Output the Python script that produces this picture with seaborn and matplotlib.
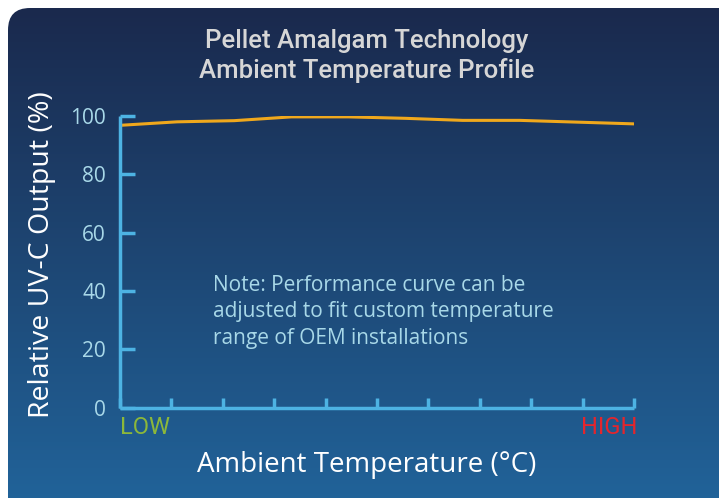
import numpy as np
import pandas as pd
import matplotlib
matplotlib.use("Agg")
import matplotlib.pyplot as plt
from matplotlib.patches import FancyBboxPatch
import seaborn as sns

# data (relative output at 10 evenly spaced temperatures)
temp_step = [0, 1, 2, 3, 4, 5, 6, 7, 8, 9]
uv_output = [96.8, 98.0, 98.4, 99.7, 99.7, 99.2, 98.5, 98.5, 97.9, 97.3]
y_ticks = [0, 20, 40, 60, 80, 100]
title_lines = ["Pellet Amalgam Technology", "Ambient Temperature Profile"]
note_text = "Note: Performance curve can be\nadjusted to fit custom temperature\nrange of OEM installations"

df = pd.DataFrame({"step": temp_step, "output": uv_output})

sns.set_theme(style="white")
plt.rcParams['font.family'] = ['Open Sans', 'DejaVu Sans']

axis_col = "#4db3e3"
tick_col = "#a8d8e8"

fig = plt.figure(figsize=(7.19, 4.98), dpi=100)
fig.patch.set_facecolor("white")

# rounded gradient panel
bg = fig.add_axes([0, 0, 1, 1])
bg.set_xlim(0, 719)
bg.set_ylim(498, 0)
bg.axis("off")
grad = np.linspace(0, 1, 256).reshape(-1, 1)
top = np.array([0x1a, 0x29, 0x4d]) / 255
bot = np.array([0x21, 0x65, 0x9c]) / 255
img = top + grad[..., None] * (bot - top)
img = np.repeat(img, 2, axis=1)
im = bg.imshow(img, extent=[8, 740, 520, 8], aspect="auto", zorder=0)
panel = FancyBboxPatch((8, 8), 740, 520, boxstyle="round,pad=0,rounding_size=22",
                       transform=bg.transData, facecolor="none", edgecolor="none")
bg.add_patch(panel)
im.set_clip_path(panel)

ax = fig.add_axes([120 / 719, 1 - 407.5 / 498, 514 / 719, 291.5 / 498])
ax.patch.set_alpha(0)
sns.lineplot(data=df, x="step", y="output", ax=ax, color="#f0a81c", linewidth=2.2)

ax.set_xlim(0, 9)
ax.set_ylim(0, 100)
ax.set_xticks(np.linspace(0, 9, 11))
ax.set_xticklabels([])
ax.set_yticks(y_ticks)
ax.set_yticklabels([str(t) for t in y_ticks], color=tick_col, fontsize=15)
ax.tick_params(axis="y", direction="in", length=11, width=2.5, color=axis_col, pad=10, left=True)
ax.tick_params(axis="x", direction="in", length=7, width=2.5, color=axis_col, bottom=True)
for s in ["top", "right"]:
    ax.spines[s].set_visible(False)
for s in ["left", "bottom"]:
    ax.spines[s].set_color(axis_col)
    ax.spines[s].set_linewidth(2.5)
    ax.spines[s].set_capstyle("butt")
ax.set_xlabel("")
ax.set_ylabel("")

cond = ['Roboto', 'DejaVu Sans']
ax.text(0, -0.03, "LOW", transform=ax.transAxes, color="#8cb83a", fontsize=17, va="top", ha="left",
        family=cond)
ax.text(1.006, -0.03, "HIGH", transform=ax.transAxes, color="#e3262d", fontsize=17, va="top", ha="right",
        family=cond)
ax.text(0.18, 0.455, note_text, transform=ax.transAxes, color=tick_col, fontsize=15,
        va="top", ha="left", linespacing=1.35)

fig.text(367 / 719, 1 - 56 / 498, "\n".join(title_lines), color="#d6d6d6", fontsize=18.5,
         ha="center", va="center", linespacing=1.25, family=cond, fontweight="medium")
fig.text(42 / 719, 1 - 255 / 498, "Relative UV-C Output (%)", color="white", fontsize=20.5,
         rotation=90, ha="center", va="center")
fig.text(367 / 719, 1 - 465 / 498, "Ambient Temperature (°C)", color="white", fontsize=20,
         ha="center", va="center")

fig.savefig("out.png", dpi=100)
